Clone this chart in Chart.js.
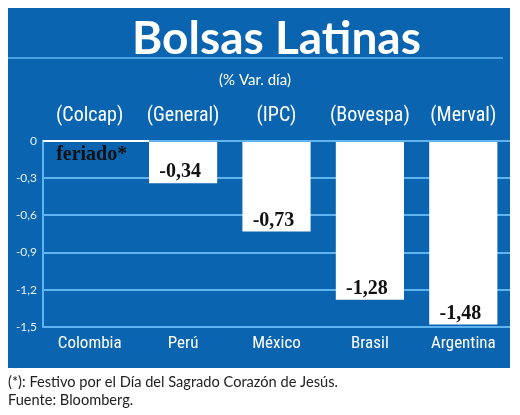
<!DOCTYPE html>
<html>
<head>
<meta charset="utf-8">
<script src="https://cdn.jsdelivr.net/npm/chart.js@4.4.0/dist/chart.umd.min.js"></script>
<style>
html, body { margin: 0; padding: 0; background: #fff; }
#wrap { width: 520px; height: 415px; }
</style>
</head>
<body>
<div id="wrap"><canvas id="bolsas"></canvas></div>
<script>
var countries = ['Colombia', 'Perú', 'México', 'Brasil', 'Argentina'];
var indices = ['(Colcap)', '(General)', '(IPC)', '(Bovespa)', '(Merval)'];
var variation = [null, -0.34, -0.73, -1.28, -1.48];
var holidayLabel = 'feriado*';
var yTicks = [0, -0.3, -0.6, -0.9, -1.2, -1.5];
var footnotes = ['(*): Festivo por el Día del Sagrado Corazón de Jesús.', 'Fuente: Bloomberg.'];

var BLUE = '#0a64b0';
var GRID = '#5fb4ee';
var NARROW = "'Roboto Condensed', Roboto, sans-serif";

function comma(v, d) {
    if (v === 0) return '0';
    return v.toFixed(d).replace('.', ',');
}

var panel = {
    id: 'panel',
    beforeDraw: function (chart) {
        var c = chart.ctx;
        c.save();
        c.fillStyle = '#ffffff';
        c.fillRect(0, 0, chart.width, chart.height);
        c.fillStyle = BLUE;
        c.fillRect(8, 8, 502, 360);
        c.strokeStyle = GRID;
        c.lineWidth = 1.5;
        c.beginPath();
        c.moveTo(8, 58);
        c.lineTo(503, 58);
        c.stroke();
        c.restore();
    },
    afterDatasetsDraw: function (chart) {
        var c = chart.ctx;
        var meta = chart.getDatasetMeta(0);
        var y0 = chart.scales.y.getPixelForValue(0);
        c.save();
        // white zero line across the holiday slot
        var next = meta.data[1];
        c.strokeStyle = '#ffffff';
        c.lineWidth = 2;
        c.beginPath();
        c.moveTo(chart.chartArea.left, y0);
        c.lineTo(next.x - next.width / 2, y0);
        c.stroke();

        c.fillStyle = '#111111';
        c.font = "bold 20px 'Liberation Serif', 'Times New Roman', serif";
        c.textAlign = 'center';
        c.textBaseline = 'middle';
        variation.forEach(function (v, i) {
            var bar = meta.data[i];
            var x = chart.scales.x.getPixelForValue(i);
            if (v === null) {
                c.fillText(holidayLabel, x + 2, y0 + 14);
            } else {
                c.fillText(comma(v, 2), x - 3, bar.y - 11);
            }
        });
        c.restore();
    },
    afterDraw: function (chart) {
        var c = chart.ctx;
        c.save();
        c.fillStyle = '#222222';
        c.font = "14.6px Lato, 'Open Sans', sans-serif";
        c.textAlign = 'left';
        c.textBaseline = 'middle';
        footnotes.forEach(function (t, i) {
            c.fillText(t, 8, 382 + i * 18);
        });
        c.restore();
    }
};

var ctx = document.getElementById('bolsas').getContext('2d');
var myChart = new Chart(ctx, {
    type: 'bar',
    data: {
        labels: countries,
        datasets: [{
            label: '% Var. día',
            data: variation,
            backgroundColor: '#ffffff',
            borderWidth: 0,
            barPercentage: 0.73,
            categoryPercentage: 1.0
        }]
    },
    plugins: [panel],
    options: {
        responsive: true,
        maintainAspectRatio: false,
        animation: false,
        layout: {
            padding: { left: 0, right: 10, top: 0, bottom: 48 }
        },
        plugins: {
            legend: { display: false },
            tooltip: { enabled: false },
            title: {
                display: true,
                fullSize: false,
                text: 'Bolsas Latinas',
                color: '#ffffff',
                font: { family: 'Lato', size: 46, weight: 'bold', lineHeight: 1 },
                padding: { top: 16, bottom: 9 }
            },
            subtitle: {
                display: true,
                text: '(% Var. día)',
                color: '#ffffff',
                font: { family: 'Lato', size: 15, lineHeight: 1.2 },
                padding: { top: 0, bottom: 0 }
            }
        },
        scales: {
            x: {
                position: 'bottom',
                grid: { display: false, drawTicks: false },
                border: { display: false },
                ticks: {
                    color: '#ffffff',
                    padding: 7,
                    maxRotation: 0,
                    autoSkip: false,
                    font: { family: NARROW, size: 17 }
                },
                afterFit: function (s) { s.height = 40; }
            },
            x2: {
                type: 'category',
                position: 'top',
                labels: indices,
                grid: { display: false, drawTicks: false },
                border: { display: false },
                ticks: {
                    color: '#ffffff',
                    padding: 13,
                    maxRotation: 0,
                    autoSkip: false,
                    font: { family: NARROW, size: 20 }
                },
                afterFit: function (s) { s.height = 52; }
            },
            y: {
                min: -1.5,
                max: 0,
                afterBuildTicks: function (s) {
                    s.ticks = yTicks.map(function (v) { return { value: v }; });
                },
                grid: { color: GRID, lineWidth: 2, drawTicks: false },
                border: { display: true, color: GRID, width: 2 },
                ticks: {
                    color: '#e8f1fa',
                    padding: 6,
                    font: { family: "Lato, 'Open Sans', sans-serif", size: 12 },
                    callback: function (v) { return comma(v, 1); }
                },
                afterFit: function (s) { s.width = 43; }
            }
        }
    }
});
</script>
</body>
</html>
